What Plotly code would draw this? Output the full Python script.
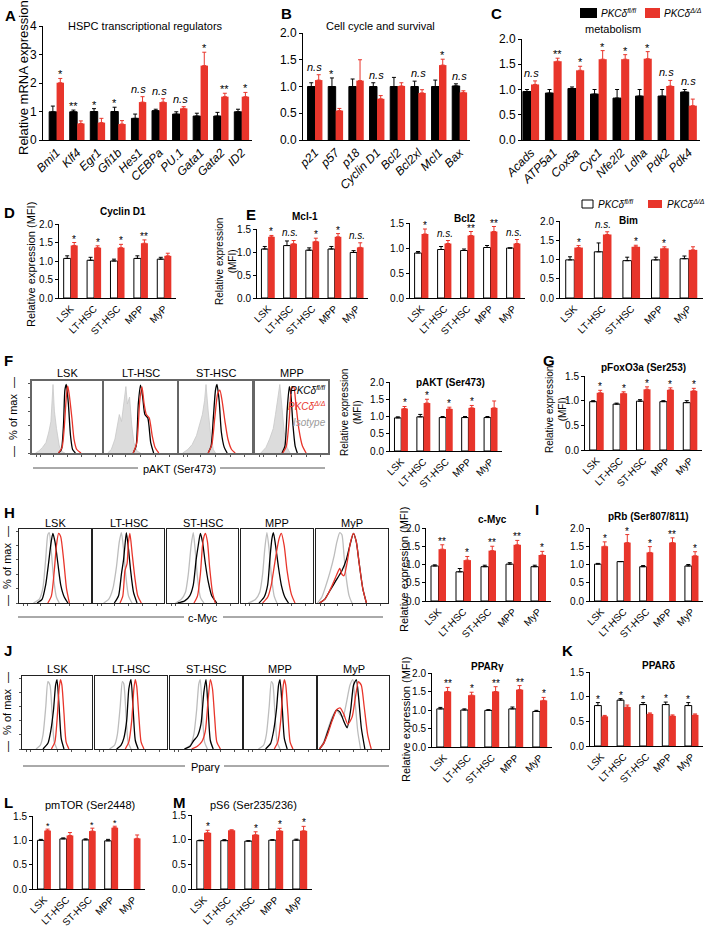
import plotly.graph_objects as go

W, H = 709, 934
RED = "#e8352b"
GREY = "#bdbdbd"
FONT = "Liberation Sans, Arial, sans-serif"

# ---------------- data: qPCR panels ----------------
a_genes = ["Bmi1", "Klf4", "Egr1", "Gfi1b", "Hes1", "CEBPa", "PU.1", "Gata1", "Gata2", "ID2"]
a_ctrl = [0.99, 0.99, 1.00, 1.00, 0.76, 1.03, 0.91, 0.84, 0.84, 0.99]
a_ctrl_err = [0.20, 0.06, 0.10, 0.15, 0.15, 0.05, 0.08, 0.10, 0.13, 0.09]
a_ko = [2.01, 0.58, 0.61, 0.56, 1.33, 1.33, 1.11, 2.61, 1.52, 1.52]
a_ko_err = [0.15, 0.09, 0.15, 0.12, 0.19, 0.12, 0.06, 0.47, 0.12, 0.15]
a_sig = ["*", "**", "*", "*", "n.s", "n.s", "n.s", "*", "**", "*"]

b_genes = ["p21", "p57", "p18", "Cyclin D1", "Bcl2", "Bcl2xl", "Mcl1", "Bax"]
b_ctrl = [1.00, 1.00, 1.00, 1.00, 1.00, 1.00, 1.00, 1.01]
b_ctrl_err = [0.07, 0.16, 0.14, 0.07, 0.17, 0.10, 0.12, 0.04]
b_ko = [1.12, 0.55, 1.11, 0.77, 1.01, 0.88, 1.40, 0.89]
b_ko_err = [0.10, 0.04, 0.39, 0.06, 0.06, 0.06, 0.11, 0.03]
b_sig = ["n.s", "*", "", "n.s", "", "n.s", "*", "n.s"]

c_genes = ["Acads", "ATP5a1", "Cox5a", "Cyc1", "Nfe2l2", "Ldha", "Pdk2", "Pdk4"]
c_ctrl = [0.96, 0.93, 1.02, 0.91, 0.83, 0.87, 0.87, 0.95]
c_ctrl_err = [0.04, 0.07, 0.03, 0.09, 0.17, 0.13, 0.13, 0.05]
c_ko = [1.10, 1.56, 1.38, 1.60, 1.60, 1.61, 1.07, 0.68]
c_ko_err = [0.07, 0.06, 0.08, 0.17, 0.09, 0.14, 0.11, 0.13]
c_sig = ["n.s", "**", "*", "*", "*", "*", "n.s", "n.s"]

# ---------------- data: flow MFI panels ----------------
pops = ["LSK", "LT-HSC", "ST-HSC", "MPP", "MyP"]

d_ctrl = [1.07, 1.02, 1.00, 1.07, 1.05]
d_ctrl_err = [0.07, 0.08, 0.05, 0.07, 0.05]
d_ko = [1.42, 1.36, 1.36, 1.48, 1.14]
d_ko_err = [0.08, 0.05, 0.09, 0.09, 0.07]
d_sig = ["*", "*", "*", "**", ""]

mcl_ctrl = [1.065, 1.14, 1.04, 1.065, 0.99]
mcl_ctrl_err = [0.055, 0.10, 0.05, 0.055, 0.04]
mcl_ko = [1.33, 1.18, 1.23, 1.33, 1.10]
mcl_ko_err = [0.03, 0.07, 0.07, 0.07, 0.10]
mcl_sig = ["*", "n.s.", "*", "*", "n.s."]

bcl_ctrl = [0.90, 0.97, 0.95, 1.01, 1.00]
bcl_ctrl_err = [0.03, 0.06, 0.03, 0.04, 0.00]
bcl_ko = [1.28, 1.09, 1.25, 1.33, 1.09]
bcl_ko_err = [0.10, 0.06, 0.08, 0.10, 0.08]
bcl_sig = ["*", "n.s.", "**", "**", "n.s."]

bim_ctrl = [0.99, 1.20, 0.97, 0.99, 1.02]
bim_ctrl_err = [0.08, 0.23, 0.09, 0.07, 0.07]
bim_ko = [1.31, 1.65, 1.33, 1.29, 1.25]
bim_ko_err = [0.05, 0.07, 0.04, 0.04, 0.08]
bim_sig = ["*", "n.s.", "*", "*", ""]

akt_ctrl = [0.96, 0.99, 0.97, 0.97, 0.97]
akt_ctrl_err = [0.03, 0.07, 0.03, 0.03, 0.03]
akt_ko = [1.23, 1.39, 1.22, 1.25, 1.25]
akt_ko_err = [0.06, 0.11, 0.05, 0.07, 0.20]
akt_sig = ["*", "*", "*", "*", ""]

foxo_ctrl = [0.98, 0.93, 0.99, 0.98, 0.96]
foxo_ctrl_err = [0.02, 0.02, 0.03, 0.02, 0.04]
foxo_ko = [1.16, 1.15, 1.23, 1.22, 1.20]
foxo_ko_err = [0.05, 0.03, 0.05, 0.04, 0.05]
foxo_sig = ["*", "*", "*", "*", "*"]

myc_ctrl = [0.96, 0.80, 0.94, 1.01, 0.94]
myc_ctrl_err = [0.03, 0.09, 0.04, 0.04, 0.04]
myc_ko = [1.42, 1.12, 1.38, 1.54, 1.26]
myc_ko_err = [0.12, 0.10, 0.12, 0.12, 0.10]
myc_sig = ["**", "*", "**", "**", "*"]

rb_ctrl = [1.01, 1.08, 0.94, None, 0.96]
rb_ctrl_err = [0.02, 0.00, 0.03, 0.04, 0.04]
rb_ko = [1.50, 1.60, 1.33, 1.60, 1.24]
rb_ko_err = [0.12, 0.22, 0.16, 0.13, 0.11]
rb_sig = ["*", "*", "*", "**", "*"]

pg_ctrl = [1.03, 1.00, 0.99, 1.03, 0.96]
pg_ctrl_err = [0.04, 0.03, 0.02, 0.05, 0.03]
pg_ko = [1.50, 1.40, 1.50, 1.55, 1.26]
pg_ko_err = [0.11, 0.08, 0.13, 0.11, 0.08]
pg_sig = ["**", "*", "**", "**", "*"]

pd_ctrl = [0.82, 0.93, 0.84, 0.84, 0.82]
pd_ctrl_err = [0.06, 0.03, 0.04, 0.05, 0.06]
pd_ko = [0.60, 0.79, 0.65, 0.61, 0.63]
pd_ko_err = [0.02, 0.04, 0.02, 0.02, 0.02]
pd_sig = ["*", "*", "*", "*", "*"]

mtor_ctrl = [1.00, 1.03, 1.01, 0.99, None]
mtor_ctrl_err = [0.02, 0.02, 0.02, 0.03, 0.00]
mtor_ko = [1.20, 1.10, 1.19, 1.26, 1.04]
mtor_ko_err = [0.03, 0.06, 0.06, 0.03, 0.07]
mtor_sig = ["*", "", "*", "*", ""]

s6_ctrl = [0.98, 0.98, 0.97, 0.99, 0.99]
s6_ctrl_err = [0.01, 0.02, 0.01, 0.01, 0.02]
s6_ko = [1.14, 1.19, 1.10, 1.18, 1.18]
s6_ko_err = [0.05, 0.01, 0.06, 0.05, 0.09]
s6_sig = ["*", "", "*", "*", "*"]

# ---------------- data: flow histograms (relative channel, % of max) ----------------
akt_hist = {
    "LSK": {"iso": ([0.05, 0.1, 0.15, 0.2, 0.24, 0.27, 0.3, 0.32, 0.35, 0.39, 0.43, 0.47],
                    [0, 3, 8, 15, 30, 45, 98, 60, 35, 10, 2, 0]),
            "ctrl": ([0.38, 0.42, 0.45, 0.47, 0.49, 0.52, 0.55, 0.58, 0.62], [0, 5, 40, 90, 98, 70, 25, 5, 0]),
            "ko": ([0.38, 0.43, 0.46, 0.49, 0.51, 0.53, 0.57, 0.6, 0.64, 0.7], [0, 8, 35, 80, 96, 85, 50, 20, 5, 0])},
    "LT-HSC": {"iso": ([0.05, 0.1, 0.15, 0.18, 0.21, 0.24, 0.27, 0.3, 0.32, 0.35, 0.38, 0.41, 0.45, 0.5],
                       [0, 5, 20, 35, 55, 45, 75, 95, 70, 80, 40, 15, 3, 0]),
               "ctrl": ([0.4, 0.44, 0.47, 0.5, 0.53, 0.56, 0.6, 0.64, 0.68], [0, 10, 70, 97, 80, 55, 50, 15, 0]),
               "ko": ([0.4, 0.45, 0.49, 0.52, 0.55, 0.58, 0.62, 0.66, 0.7, 0.75], [0, 15, 75, 95, 70, 55, 50, 25, 8, 0])},
    "ST-HSC": {"iso": ([0.05, 0.12, 0.18, 0.24, 0.28, 0.32, 0.35, 0.37, 0.4, 0.43, 0.47, 0.5],
                       [0, 5, 12, 25, 40, 55, 75, 98, 60, 30, 5, 0]),
               "ctrl": ([0.4, 0.44, 0.47, 0.5, 0.52, 0.55, 0.58, 0.62, 0.66], [0, 10, 50, 90, 98, 75, 30, 8, 0]),
               "ko": ([0.4, 0.45, 0.49, 0.53, 0.56, 0.59, 0.63, 0.67, 0.72, 0.77], [0, 12, 50, 85, 90, 75, 45, 20, 5, 0])},
    "MPP": {"iso": ([0.08, 0.15, 0.2, 0.25, 0.28, 0.31, 0.34, 0.37, 0.4, 0.44, 0.48],
                    [0, 8, 20, 35, 55, 75, 98, 65, 30, 8, 0]),
            "ctrl": ([0.37, 0.41, 0.44, 0.47, 0.49, 0.52, 0.55, 0.58], [0, 10, 60, 95, 85, 40, 10, 0]),
            "ko": ([0.38, 0.43, 0.47, 0.5, 0.53, 0.56, 0.6, 0.65, 0.7], [0, 10, 50, 92, 95, 70, 35, 10, 0])},
}

myc_hist = {
    "LSK": {"iso": ([0.2, 0.28, 0.33, 0.37, 0.4, 0.42, 0.45, 0.48, 0.52, 0.56], [0, 5, 20, 60, 95, 98, 70, 35, 8, 0]),
            "ctrl": ([0.25, 0.32, 0.37, 0.41, 0.44, 0.47, 0.5, 0.54, 0.58, 0.63, 0.68], [0, 5, 25, 55, 80, 97, 85, 55, 25, 8, 0]),
            "ko": ([0.4, 0.45, 0.49, 0.52, 0.55, 0.58, 0.62, 0.66, 0.7], [0, 10, 45, 80, 97, 92, 60, 20, 0])},
    "LT-HSC": {"iso": ([0.15, 0.22, 0.28, 0.33, 0.37, 0.4, 0.43, 0.46, 0.5, 0.55], [0, 5, 20, 50, 85, 98, 75, 40, 10, 0]),
               "ctrl": ([0.3, 0.36, 0.4, 0.43, 0.45, 0.47, 0.5, 0.53, 0.57, 0.62], [0, 10, 40, 60, 80, 98, 75, 45, 15, 0]),
               "ko": ([0.38, 0.42, 0.45, 0.48, 0.5, 0.52, 0.55, 0.59, 0.63, 0.68], [0, 10, 45, 55, 85, 97, 70, 35, 10, 0])},
    "ST-HSC": {"iso": ([0.12, 0.2, 0.26, 0.3, 0.34, 0.37, 0.4, 0.43, 0.47, 0.52], [0, 5, 15, 40, 80, 98, 70, 35, 8, 0]),
               "ctrl": ([0.15, 0.25, 0.32, 0.37, 0.41, 0.44, 0.47, 0.5, 0.54, 0.58, 0.63, 0.7], [0, 3, 10, 25, 60, 80, 97, 85, 55, 30, 10, 0]),
               "ko": ([0.38, 0.43, 0.47, 0.5, 0.52, 0.54, 0.57, 0.6, 0.64, 0.68], [0, 10, 40, 80, 92, 97, 85, 50, 15, 0])},
    "MPP": {"iso": ([0.1, 0.2, 0.26, 0.3, 0.33, 0.36, 0.39, 0.42, 0.46, 0.5], [0, 5, 15, 40, 75, 98, 75, 40, 10, 0]),
            "ctrl": ([0.25, 0.32, 0.37, 0.4, 0.43, 0.45, 0.48, 0.52, 0.56, 0.61, 0.66], [0, 8, 25, 60, 90, 98, 80, 50, 25, 8, 0]),
            "ko": ([0.3, 0.37, 0.42, 0.46, 0.5, 0.53, 0.56, 0.6, 0.64, 0.7, 0.75], [0, 8, 25, 50, 75, 90, 97, 80, 45, 12, 0])},
    "MyP": {"iso": ([0.02, 0.08, 0.14, 0.2, 0.25, 0.29, 0.33, 0.36, 0.39, 0.42, 0.46, 0.5],
                    [0, 8, 25, 45, 65, 85, 98, 95, 65, 35, 10, 0]),
            "ctrl": ([0.05, 0.12, 0.18, 0.24, 0.3, 0.36, 0.42, 0.47, 0.52, 0.56, 0.6, 0.65, 0.7],
                     [0, 5, 15, 25, 35, 45, 60, 80, 97, 85, 55, 20, 0]),
            "ko": ([0.05, 0.12, 0.18, 0.24, 0.29, 0.33, 0.36, 0.39, 0.43, 0.48, 0.52, 0.56, 0.6, 0.65, 0.7],
                   [0, 5, 15, 28, 40, 48, 40, 38, 55, 85, 97, 85, 55, 20, 0])},
}

pparg_hist = {
    "LSK": {"iso": ([0.2, 0.26, 0.3, 0.34, 0.37, 0.4, 0.43, 0.46, 0.5], [0, 5, 20, 60, 95, 90, 50, 10, 0]),
            "ctrl": ([0.3, 0.37, 0.41, 0.45, 0.48, 0.5, 0.53, 0.56, 0.6], [0, 8, 25, 55, 90, 98, 60, 15, 0]),
            "ko": ([0.42, 0.47, 0.5, 0.53, 0.55, 0.57, 0.6, 0.63, 0.67], [0, 10, 40, 85, 98, 90, 50, 10, 0])},
    "LT-HSC": {"iso": ([0.2, 0.27, 0.31, 0.35, 0.38, 0.4, 0.43, 0.46, 0.5], [0, 5, 20, 60, 95, 92, 50, 10, 0]),
               "ctrl": ([0.3, 0.36, 0.4, 0.44, 0.47, 0.5, 0.53, 0.56, 0.6], [0, 5, 15, 40, 85, 98, 55, 12, 0]),
               "ko": ([0.42, 0.47, 0.51, 0.54, 0.56, 0.58, 0.61, 0.64, 0.68], [0, 10, 40, 85, 98, 88, 45, 10, 0])},
    "ST-HSC": {"iso": ([0.2, 0.28, 0.33, 0.37, 0.4, 0.42, 0.45, 0.48, 0.52], [0, 5, 20, 55, 92, 98, 50, 10, 0]),
               "ctrl": ([0.2, 0.28, 0.33, 0.38, 0.43, 0.47, 0.5, 0.53, 0.56, 0.6], [0, 4, 12, 18, 35, 80, 98, 55, 12, 0]),
               "ko": ([0.3, 0.38, 0.44, 0.49, 0.53, 0.56, 0.59, 0.62, 0.65, 0.7], [0, 4, 10, 25, 70, 98, 85, 45, 10, 0])},
    "MPP": {"iso": ([0.2, 0.27, 0.31, 0.35, 0.38, 0.4, 0.43, 0.46, 0.5], [0, 5, 20, 60, 95, 92, 50, 10, 0]),
            "ctrl": ([0.3, 0.37, 0.41, 0.45, 0.48, 0.5, 0.53, 0.56, 0.6], [0, 8, 25, 55, 90, 98, 60, 15, 0]),
            "ko": ([0.42, 0.47, 0.51, 0.54, 0.56, 0.58, 0.61, 0.64, 0.68], [0, 10, 40, 85, 98, 90, 50, 10, 0])},
    "MyP": {"iso": ([0.02, 0.08, 0.14, 0.2, 0.26, 0.3, 0.35, 0.4, 0.45, 0.49, 0.52, 0.56, 0.6],
                    [0, 10, 28, 45, 55, 50, 45, 65, 90, 98, 70, 25, 0]),
            "ctrl": ([0.02, 0.08, 0.14, 0.2, 0.26, 0.31, 0.36, 0.41, 0.46, 0.5, 0.54, 0.57, 0.61, 0.66],
                     [0, 8, 25, 42, 55, 52, 40, 30, 55, 90, 98, 75, 30, 0]),
            "ko": ([0.02, 0.08, 0.14, 0.2, 0.26, 0.31, 0.36, 0.42, 0.48, 0.53, 0.57, 0.61, 0.65, 0.7, 0.75],
                   [0, 8, 22, 40, 55, 58, 50, 35, 45, 75, 95, 90, 60, 20, 0])},
}

# ---------------- helpers ----------------
fig = go.Figure()
layout = {}
ann = []
shapes = []
counter = [0]


def px(x):
    return x / W


def py(y):
    return 1 - y / H


def new_axes(x0, x1, ytop, ybot):
    counter[0] += 1
    n = counter[0]
    xk = "xaxis" if n == 1 else f"xaxis{n}"
    yk = "yaxis" if n == 1 else f"yaxis{n}"
    xr = "x" if n == 1 else f"x{n}"
    yr = "y" if n == 1 else f"y{n}"
    layout[xk] = dict(domain=[px(x0), px(x1)], anchor=yr, fixedrange=True, automargin=False)
    layout[yk] = dict(domain=[py(ybot), py(ytop)], anchor=xr, fixedrange=True, automargin=False)
    return xk, yk, xr, yr


def text(t, x, y, size=10, bold=False, italic=False, color="black", xanchor="center", yanchor="middle", angle=0):
    s = t
    if bold:
        s = f"<b>{s}</b>"
    if italic:
        s = f"<i>{s}</i>"
    ann.append(dict(x=px(x), y=py(y), xref="paper", yref="paper", text=s, showarrow=False,
                    xanchor=xanchor, yanchor=yanchor, textangle=angle,
                    font=dict(family=FONT, size=size, color=color)))


def bar_chart(cats, ctrl, ctrl_err, ko, ko_err, sig, box, ymax, dtick, xrange,
              ctrl_fill="white", italic=False, w=0.3, tick_size=10, cat_size=10,
              star_size=10, fmt=".1f"):
    xk, yk, xr, yr = new_axes(*box)
    idx = list(range(len(cats)))
    zeros = [0] * len(cats)
    fig.add_trace(go.Bar(
        x=idx, y=ctrl, width=w, offset=-w,
        marker=dict(color=ctrl_fill, line=dict(color="black", width=1)),
        error_y=dict(type="data", symmetric=False, array=ctrl_err, arrayminus=zeros,
                     color="black", thickness=1, width=2),
        xaxis=xr, yaxis=yr, showlegend=False, hoverinfo="skip"))
    fig.add_trace(go.Bar(
        x=idx, y=ko, width=w, offset=0,
        marker=dict(color=RED, line=dict(color=RED, width=0)),
        error_y=dict(type="data", symmetric=False, array=ko_err, arrayminus=zeros,
                     color=RED, thickness=1, width=2),
        xaxis=xr, yaxis=yr, showlegend=False, hoverinfo="skip"))
    layout[xk].update(
        range=list(xrange), tickmode="array", tickvals=idx, ticktext=cats, tickangle=-45,
        showline=True, linecolor="black", linewidth=1, ticks="", showgrid=False, zeroline=False,
        tickfont=dict(family=FONT, size=cat_size, color="black", style="italic" if italic else "normal"))
    layout[yk].update(
        range=[0, ymax], tick0=0, dtick=dtick, tickformat=fmt, ticks="outside", ticklen=3,
        tickwidth=1, tickcolor="black", showline=True, linecolor="black", linewidth=1,
        showgrid=False, zeroline=False, tickfont=dict(family=FONT, size=tick_size, color="black"))
    for i, s in enumerate(sig):
        if not s:
            continue
        tc = (ctrl[i] if ctrl[i] is not None else 0) + ctrl_err[i]
        tk = ko[i] + ko_err[i]
        top = max(tc, tk)
        if s.startswith("n"):
            ann.append(dict(x=i, y=top, xref=xr, yref=yr, text=f"<i>{s}</i>", showarrow=False,
                            yanchor="bottom", yshift=0,
                            font=dict(family=FONT, size=star_size, color="black")))
        else:
            xpos = i - w / 2 if tc > tk else i + w / 2
            ann.append(dict(x=xpos, y=top, xref=xr, yref=yr, text=s, showarrow=False,
                            yanchor="bottom", yshift=-4,
                            font=dict(family=FONT, size=star_size, color="black")))
    return xr, yr


def hist_panel(box, title, curves, first, border_color, border_w, title_y, iso_fill):
    x0, x1, ytop, ybot = box
    xk, yk, xr, yr = new_axes(x0, x1, ytop, ybot)
    xs, ys = curves["iso"]
    if iso_fill:
        fig.add_trace(go.Scatter(x=xs, y=ys, mode="lines", line=dict(color="#c8c8c8", width=0.8),
                                 fill="tozeroy", fillcolor="#dcdcdc", xaxis=xr, yaxis=yr,
                                 showlegend=False, hoverinfo="skip"))
    else:
        fig.add_trace(go.Scatter(x=xs, y=ys, mode="lines",
                                 line=dict(color=GREY, width=1.3, shape="spline", smoothing=0.6),
                                 xaxis=xr, yaxis=yr, showlegend=False, hoverinfo="skip"))
    for key, col in (("ctrl", "black"), ("ko", RED)):
        xs, ys = curves[key]
        fig.add_trace(go.Scatter(x=xs, y=ys, mode="lines",
                                 line=dict(color=col, width=1.3, shape="spline", smoothing=0.6),
                                 xaxis=xr, yaxis=yr, showlegend=False, hoverinfo="skip"))
    layout[xk].update(range=[0, 1], showline=True, mirror=True, linecolor=border_color,
                      linewidth=border_w, ticks="outside", ticklen=2, tickcolor="#555",
                      tickvals=[0.06, 0.12, 0.3, 0.5, 0.7, 0.9], showticklabels=False,
                      showgrid=False, zeroline=False)
    layout[yk].update(range=[0, 103], showline=True, mirror=True, linecolor=border_color,
                      linewidth=border_w, ticks="outside" if first else "", ticklen=2,
                      tickcolor="#555", tickvals=[0, 20, 40, 60, 80, 100], showticklabels=False,
                      showgrid=False, zeroline=False)
    text(title, (x0 + x1) / 2, title_y, size=11)


# ---------------- row 1: A, B, C ----------------
bar_chart(a_genes, a_ctrl, a_ctrl_err, a_ko, a_ko_err, a_sig, (43, 252, 26, 140), 4, 1,
          (-0.66, 9.5), ctrl_fill="black", italic=True, w=0.36, tick_size=12, cat_size=12,
          star_size=11, fmt="d")
bar_chart(b_genes, b_ctrl, b_ctrl_err, b_ko, b_ko_err, b_sig, (303, 470, 33, 140), 2.0, 0.5,
          (-0.58, 7.5), ctrl_fill="black", italic=True, w=0.36, tick_size=12, cat_size=12,
          star_size=11)
bar_chart(c_genes, c_ctrl, c_ctrl_err, c_ko, c_ko_err, c_sig, (522, 700, 39, 140), 2.0, 0.5,
          (-0.4, 7.5), ctrl_fill="black", italic=True, w=0.36, tick_size=12, cat_size=12,
          star_size=11)

text("Relative mRNA expression", 24, 78, size=13, angle=-90)
text("HSPC transcriptional regulators", 145, 26, size=11)
text("Cell cycle and survival", 380, 26, size=11)
text("metabolism", 613, 29, size=11)

# legend C
shapes.append(dict(type="rect", xref="paper", yref="paper", x0=px(580), x1=px(597), y0=py(18), y1=py(8),
                   fillcolor="black", line=dict(width=0)))
text("<i>PKCδ<sup>fl/fl</sup></i>", 599, 13, size=10, xanchor="left")
shapes.append(dict(type="rect", xref="paper", yref="paper", x0=px(645), x1=px(660), y0=py(18), y1=py(8),
                   fillcolor=RED, line=dict(width=0)))
text("<i>PKCδ<sup>Δ/Δ</sup></i>", 662, 13, size=10, xanchor="left")

# ---------------- row 2: D, E ----------------
bar_chart(pops, d_ctrl, d_ctrl_err, d_ko, d_ko_err, d_sig, (59, 176, 224, 298), 2.0, 0.5, (-0.5, 4.5))
text("Cyclin D1", 123, 212, size=10, bold=True)
text("Relative expression (MFI)", 31, 265, size=11, angle=-90)

bar_chart(pops, mcl_ctrl, mcl_ctrl_err, mcl_ko, mcl_ko_err, mcl_sig, (257, 368, 229, 298), 1.5, 0.5, (-0.5, 4.5))
text("Mcl-1", 305, 217, size=10, bold=True)
bar_chart(pops, bcl_ctrl, bcl_ctrl_err, bcl_ko, bcl_ko_err, bcl_sig, (410, 525, 223, 298), 1.5, 0.5, (-0.5, 4.5))
text("Bcl2", 465, 218, size=10, bold=True)
bar_chart(pops, bim_ctrl, bim_ctrl_err, bim_ko, bim_ko_err, bim_sig, (560, 703, 221, 298), 2.0, 0.5, (-0.5, 4.5))
text("Bim", 628, 220, size=10, bold=True)
text("Relative expression<br>(MFI)", 226, 262, size=10, angle=-90)

# legend E
shapes.append(dict(type="rect", xref="paper", yref="paper", x0=px(582), x1=px(593), y0=py(208), y1=py(200),
                   fillcolor="white", line=dict(color="black", width=1)))
text("<i>PKCδ<sup>fl/fl</sup></i>", 596, 204, size=10, xanchor="left")
shapes.append(dict(type="rect", xref="paper", yref="paper", x0=px(648), x1=px(662), y0=py(208), y1=py(200),
                   fillcolor=RED, line=dict(width=0)))
text("<i>PKCδ<sup>Δ/Δ</sup></i>", 665, 204, size=10, xanchor="left")

# ---------------- row 3: F, G ----------------
f_boxes = [(32, 102), (104, 177), (179, 252), (255, 328)]
for i, (x0, x1) in enumerate(f_boxes):
    hist_panel((x0, x1, 381, 453), pops[i], akt_hist[pops[i]], i == 0, "#666", 1.5, 373, True)
text("<i>PKCδ<sup>fl/fl</sup></i>", 328, 390, size=10, xanchor="right")
text("<i>PKCδ<sup>Δ/Δ</sup></i>", 328, 406, size=10, xanchor="right", color=RED)
text("<i>Isotype</i>", 328, 422, size=10, xanchor="right", color="#9a9a9a")
text("—  % of max  —", 13, 417, size=11, angle=-90)
text("pAKT (Ser473)", 179, 469, size=11)
for a, b in ((33, 138), (220, 325)):
    shapes.append(dict(type="line", xref="paper", yref="paper", x0=px(a), x1=px(b), y0=py(468), y1=py(468),
                       line=dict(color="#555", width=1)))

bar_chart(pops, akt_ctrl, akt_ctrl_err, akt_ko, akt_ko_err, akt_sig, (390, 502, 382, 451), 2.0, 0.5, (-0.5, 4.5))
text("pAKT (Ser473)", 450, 382, size=10, bold=True)
text("Relative expression<br>(MFI)", 351, 413, size=10, angle=-90)

bar_chart(pops, foxo_ctrl, foxo_ctrl_err, foxo_ko, foxo_ko_err, foxo_sig, (585, 702, 376, 450), 1.5, 0.5, (-0.5, 4.5))
text("pFoxO3a (Ser253)", 643, 367, size=10, bold=True)
text("Relative expression<br>(MFI)", 556, 410, size=10, angle=-90)

# ---------------- row 4: H, I ----------------
h_boxes = [(19, 91), (93, 164), (167, 238), (241, 313), (316, 388)]
for i, (x0, x1) in enumerate(h_boxes):
    hist_panel((x0, x1, 529, 603), pops[i], myc_hist[pops[i]], i == 0, "#222", 1, 523, False)
text("—  % of max  —", 7, 566, size=11, angle=-90)
text("c-Myc", 203, 618, size=11)
for a, b in ((18, 184), (223, 383)):
    shapes.append(dict(type="line", xref="paper", yref="paper", x0=px(a), x1=px(b), y0=py(617), y1=py(617),
                       line=dict(color="#555", width=1)))

bar_chart(pops, myc_ctrl, myc_ctrl_err, myc_ko, myc_ko_err, myc_sig, (426, 551, 528, 601), 2.0, 0.5, (-0.5, 4.5))
text("c-Myc", 492, 519, size=10, bold=True)
text("Relative expression (MFI)", 404, 570, size=11, angle=-90)

bar_chart(pops, rb_ctrl, rb_ctrl_err, rb_ko, rb_ko_err, rb_sig, (590, 703, 528, 601), 2.0, 0.5, (-0.5, 4.5))
text("pRb (Ser807/811)", 648, 516, size=10, bold=True)

# ---------------- row 5: J, K ----------------
j_boxes = [(22, 92), (95, 167), (170, 242), (244, 316), (318, 389)]
for i, (x0, x1) in enumerate(j_boxes):
    hist_panel((x0, x1, 676, 749), pops[i], pparg_hist[pops[i]], i == 0, "#222", 1, 669, False)
text("—  % of max  —", 7, 712, size=11, angle=-90)
text("Pparγ", 205, 767, size=11)
for a, b in ((23, 185), (224, 389)):
    shapes.append(dict(type="line", xref="paper", yref="paper", x0=px(a), x1=px(b), y0=py(766), y1=py(766),
                       line=dict(color="#555", width=1)))

bar_chart(pops, pg_ctrl, pg_ctrl_err, pg_ko, pg_ko_err, pg_sig, (432, 552, 673, 747), 2.0, 0.5, (-0.5, 4.5))
text("PPARγ", 487, 666, size=10, bold=True)
text("Relative expression (MFI)", 406, 720, size=11, angle=-90)

bar_chart(pops, pd_ctrl, pd_ctrl_err, pd_ko, pd_ko_err, pd_sig, (590, 703, 672, 746), 1.5, 0.5, (-0.5, 4.5))
text("PPARδ", 658, 665, size=10, bold=True)

# ---------------- row 6: L, M ----------------
bar_chart(pops, mtor_ctrl, mtor_ctrl_err, mtor_ko, mtor_ko_err, mtor_sig, (33, 145, 816, 889), 1.5, 0.5,
          (-0.5, 4.5), star_size=9)
text("pmTOR (Ser2448)", 90, 805, size=11)
bar_chart(pops, s6_ctrl, s6_ctrl_err, s6_ko, s6_ko_err, s6_sig, (192, 312, 815, 889), 1.5, 0.5,
          (-0.5, 4.5), star_size=10)
text("pS6 (Ser235/236)", 253, 805, size=11)

# ---------------- panel letters ----------------
letters = [("A", 3, 5), ("B", 279, 3), ("C", 489, 3), ("D", 2, 202), ("E", 244, 204),
           ("F", 2, 350), ("G", 541, 350), ("H", 2, 502), ("I", 533, 499), ("J", 2, 640),
           ("K", 560, 640), ("L", 2, 792), ("M", 171, 792)]
for lab, x, y in letters:
    text(lab, x, y, size=15, bold=True, xanchor="left", yanchor="top")

layout.update(dict(
    template="none",
    width=W, height=H, autosize=False, margin=dict(l=0, r=0, t=0, b=0, pad=0),
    paper_bgcolor="white", plot_bgcolor="white", barmode="overlay",
    font=dict(family=FONT, color="black"), annotations=ann, shapes=shapes,
    showlegend=False))
fig.update_layout(**layout)
fig.write_html("out.html", config={"displayModeBar": False},
               post_script="document.body.style.margin='0';document.body.style.padding='0';"
                           "document.body.style.overflow='hidden';")
